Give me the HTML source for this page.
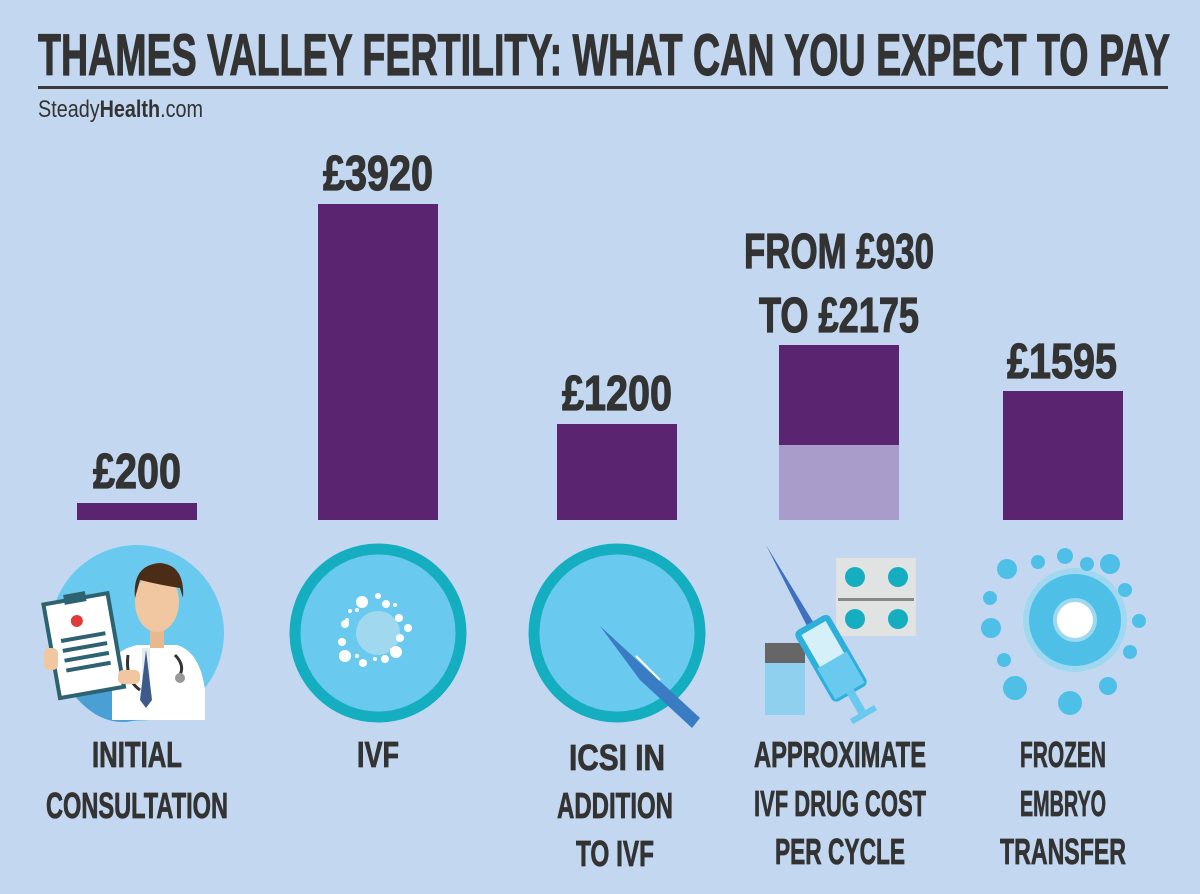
<!DOCTYPE html>
<html><head><meta charset="utf-8"><style>
html,body{margin:0;padding:0;background:#c3d8f0;}
svg{display:block}
text{font-family:"Liberation Sans Narrow","Liberation Sans",sans-serif;font-weight:bold;fill:#333;}
.b{stroke:#333;stroke-width:1.2}
</style></head><body>
<svg width="1200" height="894" viewBox="0 0 1200 894" xmlns="http://www.w3.org/2000/svg">
<rect width="1200" height="894" fill="#c3d8f0"/>
<text class="b" x="38" y="75" font-size="58" textLength="1132" lengthAdjust="spacingAndGlyphs">THAMES VALLEY FERTILITY: WHAT CAN YOU EXPECT TO PAY</text>
<rect x="38" y="86" width="1130" height="3" fill="#3a3a3a"/>
<text x="38" y="117" font-size="24" style="font-weight:normal" fill="#444" textLength="165" lengthAdjust="spacingAndGlyphs">Steady<tspan font-weight="bold">Health</tspan>.com</text>

<rect x="77" y="503" width="120" height="17" fill="#5a2470"/>
<rect x="318" y="204" width="120" height="316" fill="#5a2470"/>
<rect x="557" y="424" width="120" height="96" fill="#5a2470"/>
<rect x="779" y="345" width="120" height="100" fill="#5a2470"/>
<rect x="779" y="445" width="120" height="75" fill="#a99ccb"/>
<rect x="1003" y="391" width="120" height="129" fill="#5a2470"/>

<g font-size="49" text-anchor="middle" class="b">
<text x="137" y="488" textLength="88" lengthAdjust="spacingAndGlyphs">£200</text>
<text x="378" y="190" textLength="110" lengthAdjust="spacingAndGlyphs">£3920</text>
<text x="617" y="410" textLength="110" lengthAdjust="spacingAndGlyphs">£1200</text>
<text x="839" y="268" textLength="190" lengthAdjust="spacingAndGlyphs">FROM £930</text>
<text x="839" y="332" textLength="160" lengthAdjust="spacingAndGlyphs">TO £2175</text>
<text x="1062" y="378" textLength="110" lengthAdjust="spacingAndGlyphs">£1595</text>
</g>

<!-- icon 1 doctor -->
<ellipse cx="137" cy="633" rx="87" ry="88" fill="#6ac9ee"/>
<path d="M70 690 Q100 730 137 720 L137 690 Z" fill="#4a9fd4"/>
<path d="M112 665 Q115 650 137 645 L177 645 Q200 652 205 690 L205 720 L112 720 Z" fill="#fff"/>
<rect x="142" y="648" width="8" height="48" fill="#e7ecef"/>
<path d="M146 650 L140 700 L146 708 L152 700 Z" fill="#3e5a8a"/>
<rect x="150" y="628" width="14" height="20" fill="#e8b98f"/>
<ellipse cx="157" cy="602" rx="22" ry="30" fill="#f0c7a0"/>
<path d="M135 598 Q132 565 160 563 Q185 565 183 598 L180 588 Q160 585 140 580 Z" fill="#4a2c17"/>
<path d="M128 655 Q125 680 140 690 M175 655 Q185 665 180 675" stroke="#333" stroke-width="3" fill="none"/>
<circle cx="180" cy="678" r="5" fill="#999"/>
<g transform="rotate(-10 85 650)">
<rect x="52" y="598" width="65" height="95" fill="#fff" stroke="#2d6370" stroke-width="4"/>
<rect x="73" y="592" width="22" height="10" fill="#2d6370"/>
<circle cx="82" cy="620" r="6" fill="#e03a3a"/>
<rect x="63" y="635" width="45" height="4" fill="#2d6370"/>
<rect x="63" y="645" width="45" height="4" fill="#2d6370"/>
<rect x="63" y="655" width="45" height="4" fill="#2d6370"/>
<rect x="63" y="665" width="45" height="4" fill="#2d6370"/>
</g>
<rect x="44" y="648" width="14" height="22" rx="5" fill="#f0c7a0"/>
<rect x="118" y="670" width="22" height="14" rx="5" fill="#f0c7a0"/>

<!-- icon 2 IVF -->
<ellipse cx="378" cy="633" rx="83" ry="84" fill="#6ac9ee" stroke="#15aec0" stroke-width="11"/>
<circle cx="378" cy="633" r="22" fill="#a0d8ef"/>
<g fill="#fff">
<circle cx="362" cy="602" r="6"/><circle cx="378" cy="596" r="3"/><circle cx="386" cy="604" r="4"/><circle cx="395" cy="605" r="2"/>
<circle cx="350" cy="611" r="2"/><circle cx="357" cy="610" r="2"/><circle cx="399" cy="618" r="4"/><circle cx="345" cy="624" r="4"/>
<circle cx="347" cy="620" r="2"/><circle cx="408" cy="628" r="4"/><circle cx="400" cy="638" r="4"/><circle cx="342" cy="642" r="4"/>
<circle cx="345" cy="656" r="6"/><circle cx="357" cy="656" r="2"/><circle cx="363" cy="663" r="4"/><circle cx="375" cy="659" r="2"/>
<circle cx="385" cy="659" r="4"/><circle cx="396" cy="652" r="6"/><circle cx="392" cy="650" r="2"/>
</g>

<!-- icon 3 ICSI -->
<ellipse cx="617" cy="633" rx="83" ry="84" fill="#6ac9ee" stroke="#15aec0" stroke-width="11"/>
<path d="M600 626 L700 718 L692 728 L640 680 Z" fill="#3a7cc4"/>
<path d="M636 656 Q648 668 660 680" stroke="#fff" stroke-width="2" fill="none"/>

<!-- icon 4 drugs -->
<rect x="836" y="558" width="80" height="78" fill="#e1e3e3"/>
<circle cx="855" cy="577" r="10" fill="#15aec0"/><circle cx="898" cy="577" r="10" fill="#15aec0"/>
<circle cx="855" cy="619" r="10" fill="#15aec0"/><circle cx="898" cy="619" r="10" fill="#15aec0"/>
<rect x="838" y="598" width="76" height="3" fill="#888"/>
<rect x="765" y="643" width="40" height="20" fill="#666"/>
<rect x="765" y="663" width="40" height="52" fill="#8fd0ee"/>
<path d="M766 545 L815 625 L808 628 Z" fill="#3f6fc0"/>
<g transform="rotate(-30 832 660)">
<rect x="815" y="620" width="34" height="76" rx="3" fill="#d6f0fa" stroke="#2eb0dc" stroke-width="6"/>
<rect x="815" y="660" width="34" height="36" fill="#6ac9ee"/>
<rect x="828" y="696" width="8" height="24" fill="#6ac9ee"/>
<rect x="818" y="720" width="28" height="6" fill="#6ac9ee"/>
</g>

<!-- icon 5 frozen -->
<circle cx="1075" cy="620" r="52" fill="#a0d8ef"/>
<circle cx="1075" cy="620" r="46" fill="#4ec0e8"/>
<circle cx="1075" cy="620" r="22" fill="#a0d8ef"/>
<circle cx="1075" cy="620" r="18" fill="#fff"/>
<g fill="#4ec0e8">
<circle cx="1007" cy="569" r="10"/><circle cx="1038" cy="562" r="7"/><circle cx="1065" cy="556" r="8"/><circle cx="1087" cy="564" r="7"/><circle cx="1110" cy="564" r="10"/>
<circle cx="1125" cy="590" r="7"/><circle cx="990" cy="598" r="7"/><circle cx="991" cy="628" r="10"/><circle cx="1139" cy="621" r="7"/>
<circle cx="1130" cy="652" r="7"/><circle cx="1004" cy="660" r="7"/><circle cx="1015" cy="688" r="12"/><circle cx="1108" cy="686" r="9"/><circle cx="1070" cy="703" r="12"/>
</g>

<g font-size="36" text-anchor="middle" class="b" style="stroke-width:0.8">
<text x="137" y="767" textLength="90" lengthAdjust="spacingAndGlyphs">INITIAL</text>
<text x="137" y="818" textLength="182" lengthAdjust="spacingAndGlyphs">CONSULTATION</text>
<text x="378" y="767" textLength="42" lengthAdjust="spacingAndGlyphs">IVF</text>
<text x="617" y="770" textLength="96" lengthAdjust="spacingAndGlyphs">ICSI IN</text>
<text x="615" y="818" textLength="116" lengthAdjust="spacingAndGlyphs">ADDITION</text>
<text x="615" y="866" textLength="78" lengthAdjust="spacingAndGlyphs">TO IVF</text>
<text x="840" y="767" textLength="172" lengthAdjust="spacingAndGlyphs">APPROXIMATE</text>
<text x="840" y="816" textLength="172" lengthAdjust="spacingAndGlyphs">IVF DRUG COST</text>
<text x="840" y="864" textLength="130" lengthAdjust="spacingAndGlyphs">PER CYCLE</text>
<text x="1063" y="767" textLength="86" lengthAdjust="spacingAndGlyphs">FROZEN</text>
<text x="1063" y="816" textLength="86" lengthAdjust="spacingAndGlyphs">EMBRYO</text>
<text x="1063" y="864" textLength="126" lengthAdjust="spacingAndGlyphs">TRANSFER</text>
</g>
</svg>
</body></html>
